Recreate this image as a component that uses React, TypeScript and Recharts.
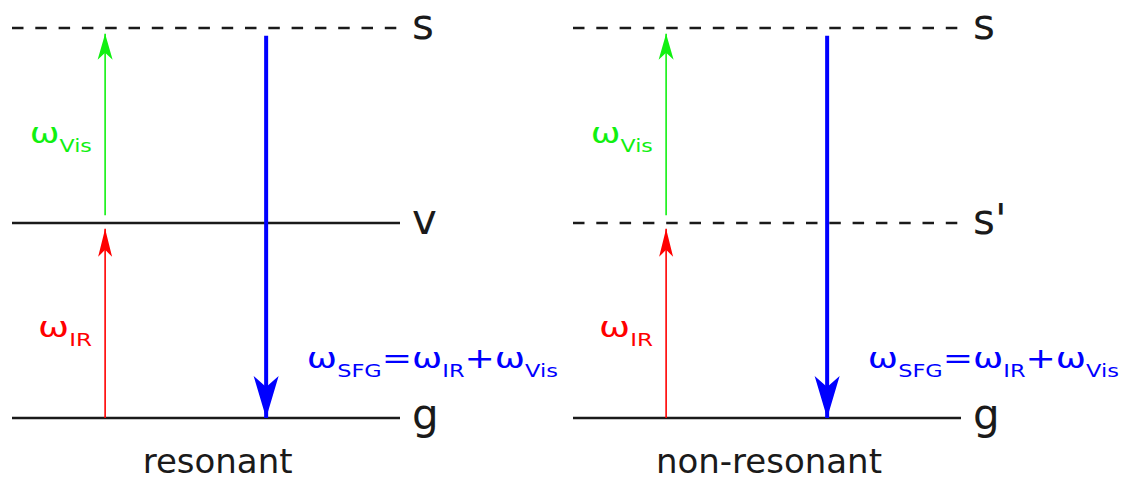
import React from 'react';
import { ComposedChart, XAxis, YAxis, Line, ReferenceDot } from 'recharts';

// energy levels (g = 0, intermediate = 1, s = 2), level lines span x 0..10
const LEVEL_X = [0, 10];
const LEVEL_E = [0, 1, 2];
const RESONANT_NAMES = ['g', 'v', 's'];
const NONRESONANT_NAMES = ['g', "s'", 's'];
const RESONANT_DASHED = [false, false, true];
const NONRESONANT_DASHED = [false, true, true];

// transitions: x position, start energy, tip energy
const IR_ARROW = { x: 2.4, from: 0, to: 0.97 };
const VIS_ARROW = { x: 2.4, from: 1.04, to: 1.97 };
const SFG_ARROW = { x: 6.55, from: 1.96, to: 0 };

// omega labels: [main, subscript] pieces
const VIS_TEXT = [['ω', 'Vis']];
const IR_TEXT = [['ω', 'IR']];
const SFG_TEXT = [['ω', 'SFG'], ['=ω', 'IR'], ['+ω', 'Vis']];
const VIS_POS = { x: 0.46, E: 1.41 };
const IR_POS = { x: 0.67, E: 0.415 };
const SFG_POS = { x: 7.6, E: 0.256 };

const TITLES = ['resonant', 'non-resonant'];
const TITLE_X = [5.3, 5.05];
const TITLE_E = -0.28;

const FONT = '"DejaVu Sans", sans-serif';
const BLACK = '#1a1a1a';
const GREEN = '#11f011';
const RED = '#ff0000';
const BLUE = '#0000ff';

const HEADS: Record<string, { w: number; l: number; n: number }> = {
    vis: { w: 15, l: 26, n: 19 },
    ir: { w: 14, l: 28, n: 21 },
    sfg: { w: 25, l: 42, n: 31 },
};

// rendered widths of the omega labels (the original font is wider than DejaVu)
const TEXT_WIDTH = { vis: 62, ir: 54, sfg: 251 };

const arrowDot = (color: string, head: { w: number; l: number; n: number }, up: boolean) => (props: any) => {
    const { cx, cy, index } = props;
    if (index !== 1) return <g key={`d${index}`} />;
    const d = up ? -1 : 1;
    const pts = [
        [cx, cy],
        [cx - head.w / 2, cy - d * head.l],
        [cx, cy - d * head.n],
        [cx + head.w / 2, cy - d * head.l],
    ].map(p => p.join(',')).join(' ');
    return <polygon key={`d${index}`} points={pts} fill={color} />;
};

const omegaShape = (pieces: string[][], color: string, width: number) => (props: any) => {
    const { cx, cy } = props;
    return (
        <text x={cx} y={cy} fill={color} fontFamily={FONT} fontSize={29} textLength={width} lengthAdjust="spacingAndGlyphs">
            {pieces.map(([main, sub], i) => (
                <React.Fragment key={i}>
                    <tspan dy={i === 0 ? 0 : -9}>{main}</tspan>
                    <tspan fontSize={18} dy={9}>{sub}</tspan>
                </React.Fragment>
            ))}
        </text>
    );
};

const levelLabel = (name: string) => (props: any) => (
    <text x={props.cx + 12} y={props.cy + 11} fill={BLACK} fontFamily={FONT} fontSize={42}>{name}</text>
);

const titleShape = (title: string) => (props: any) => (
    <text x={props.cx} y={props.cy} textAnchor="middle" fill={BLACK} fontFamily={FONT} fontSize={34}>{title}</text>
);

const Panel: React.FC<{ names: string[]; dashed: boolean[]; title: string; titleX: number }> = ({ names, dashed, title, titleX }) => {
    const arrow = (a: { x: number; from: number; to: number }) => [
        { x: a.x, E: a.from },
        { x: a.x, E: a.to },
    ];
    return (
        <ComposedChart width={561} height={481} margin={{ top: 28, right: 161, bottom: 63, left: 12 }}>
            <XAxis type="number" dataKey="x" domain={[0, 10]} hide allowDataOverflow />
            <YAxis type="number" dataKey="E" domain={[0, 2]} hide />
            {LEVEL_E.map((E, i) => (
                <Line
                    key={`lvl${i}`}
                    data={LEVEL_X.map(x => ({ x, E }))}
                    dataKey="E"
                    type="linear"
                    stroke={BLACK}
                    strokeWidth={2.4}
                    strokeDasharray={dashed[i] ? '11.5 11.8' : undefined}
                    dot={false}
                    activeDot={false}
                    isAnimationActive={false}
                />
            ))}
            <Line data={arrow(IR_ARROW)} dataKey="E" type="linear" stroke={RED} strokeWidth={1.6}
                dot={arrowDot(RED, HEADS.ir, true)} activeDot={false} isAnimationActive={false} />
            <Line data={arrow(VIS_ARROW)} dataKey="E" type="linear" stroke={GREEN} strokeWidth={1.6}
                dot={arrowDot(GREEN, HEADS.vis, true)} activeDot={false} isAnimationActive={false} />
            <Line data={arrow(SFG_ARROW)} dataKey="E" type="linear" stroke={BLUE} strokeWidth={4}
                dot={arrowDot(BLUE, HEADS.sfg, false)} activeDot={false} isAnimationActive={false} />
            {LEVEL_E.map((E, i) => (
                <ReferenceDot key={`lab${i}`} x={LEVEL_X[1]} y={E} ifOverflow="visible" shape={levelLabel(names[i])} />
            ))}
            <ReferenceDot x={VIS_POS.x} y={VIS_POS.E} ifOverflow="visible" shape={omegaShape(VIS_TEXT, GREEN, TEXT_WIDTH.vis)} />
            <ReferenceDot x={IR_POS.x} y={IR_POS.E} ifOverflow="visible" shape={omegaShape(IR_TEXT, RED, TEXT_WIDTH.ir)} />
            <ReferenceDot x={SFG_POS.x} y={SFG_POS.E} ifOverflow="visible" shape={omegaShape(SFG_TEXT, BLUE, TEXT_WIDTH.sfg)} />
            <ReferenceDot x={titleX} y={TITLE_E} ifOverflow="visible" shape={titleShape(title)} />
        </ComposedChart>
    );
};

export default function App() {
    return (
        <div style={{ position: 'absolute', left: 0, top: 0, width: 1122, height: 481, display: 'flex', background: '#fff' }}>
            <Panel names={RESONANT_NAMES} dashed={RESONANT_DASHED} title={TITLES[0]} titleX={TITLE_X[0]} />
            <Panel names={NONRESONANT_NAMES} dashed={NONRESONANT_DASHED} title={TITLES[1]} titleX={TITLE_X[1]} />
        </div>
    );
}
